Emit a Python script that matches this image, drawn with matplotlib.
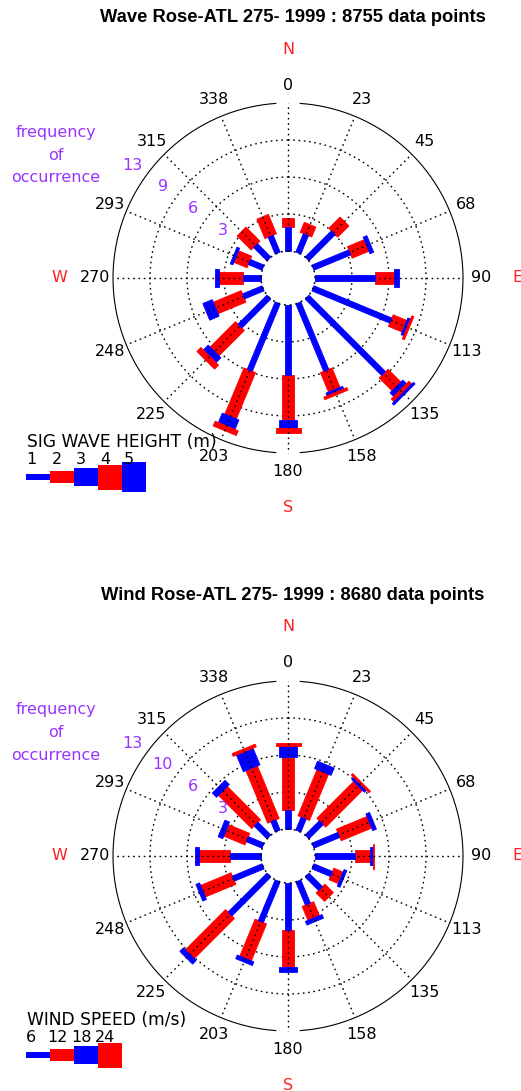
import numpy as np
import matplotlib.pyplot as plt

W, H = 521, 1091
PX = 148 / 13.0          # pixels per 1 % of occurrence
HUB = 27 / PX            # radius of the empty hub, in % units

directions = np.arange(0, 360, 22.5)
dir_labels = ['0', '23', '45', '68', '90', '113', '135', '158',
              '180', '203', '225', '248', '270', '293', '315', '338']
compass = [('N', 0), ('E', 90), ('S', 180), ('W', 270)]

# wave rose: % occurrence per direction, per height class (1..5 m)
wave_h1 = [2.10, 1.75, 3.25, 3.50, 5.30, 7.40, 9.50, 6.40, 6.15, 6.40, 3.60, 1.85, 1.60, 1.30, 1.65, 1.60]
wave_h2 = [0.80, 0.95, 1.40, 1.60, 1.60, 1.30, 1.60, 1.85, 3.95, 4.40, 3.15, 2.65, 2.10, 1.25, 1.75, 1.85]
wave_h3 = [0.00, 0.00, 0.00, 0.35, 0.45, 0.25, 0.45, 0.25, 0.70, 0.90, 0.60, 0.90, 0.35, 0.25, 0.00, 0.00]
wave_h4 = [0.00, 0.00, 0.00, 0.00, 0.00, 0.20, 0.35, 0.25, 0.45, 0.45, 0.50, 0.00, 0.00, 0.00, 0.00, 0.00]
wave_h5 = [0.00, 0.00, 0.00, 0.00, 0.00, 0.00, 0.20, 0.00, 0.00, 0.00, 0.00, 0.00, 0.00, 0.00, 0.00, 0.00]
wave_ring_labels = ['3', '6', '9', '13']
wave_legend = ['1', '2', '3', '4', '5']

# wind rose: % occurrence per direction, per speed class (6..24 m/s)
wind_s1 = [1.67, 1.23, 1.76, 2.46, 3.51, 1.76, 1.67, 2.20, 4.13, 3.86, 4.83, 2.81, 2.72, 1.49, 1.58, 0.97]
wind_s2 = [4.65, 4.39, 4.57, 2.90, 1.32, 0.88, 1.05, 1.32, 3.25, 3.51, 5.00, 2.90, 2.72, 2.02, 4.13, 5.00]
wind_s3 = [0.97, 0.70, 0.26, 0.35, 0.26, 0.26, 0.00, 0.35, 0.44, 0.35, 0.44, 0.35, 0.35, 0.44, 0.53, 1.58]
wind_s4 = [0.26, 0.00, 0.18, 0.00, 0.09, 0.00, 0.00, 0.00, 0.00, 0.00, 0.00, 0.00, 0.00, 0.00, 0.00, 0.26]
wind_ring_labels = ['3', '6', '10', '13']
wind_legend = ['6', '12', '18', '24']

RMAX = 13.0
bar_px = [5.5, 12.5, 18, 25, 30]
bar_colors = ['#0000ff', '#ff0000', '#0000ff', '#ff0000', '#0000ff']
purple = '#9933ff'
dots = (0, (1.2, 2.6))


def bar(ax, theta, r0, r1, width, color, z):
    t = np.radians(theta)
    u = np.array([np.sin(t), np.cos(t)])
    p = np.array([np.cos(t), -np.sin(t)]) * width / 2
    a, b = u * r0, u * r1
    pts = np.array([a - p, b - p, b + p, a + p])
    ax.fill(pts[:, 0], pts[:, 1], color=color, lw=0.6, ec=color, zorder=z)


def rose(ax, cx, cy, classes, ring_labels, title, leg_title, leg_labels, num_dx):
    def to_xy(px, py):
        return (px - cx) / PX, (cy - py) / PX

    # rings and spokes
    phi = np.linspace(0, 2 * np.pi, 400)
    for i in range(1, 4):
        r = HUB + RMAX * i / 4
        ax.plot(r * np.sin(phi), r * np.cos(phi), color='k', lw=1.0, ls=dots, zorder=1)
    ax.plot(HUB * np.sin(phi), HUB * np.cos(phi), color='k', lw=1.1, ls=dots, zorder=6)
    rout = HUB + RMAX
    for a0, a1 in [(4, 176), (184, 356)]:
        ph = np.radians(np.linspace(a0, a1, 300))
        ax.plot(rout * np.sin(ph), rout * np.cos(ph), color='k', lw=0.8, zorder=3)
    for d in directions:
        t = np.radians(d)
        ax.plot([HUB * np.sin(t), rout * np.sin(t)], [HUB * np.cos(t), rout * np.cos(t)],
                color='k', lw=1.0, ls=dots, zorder=3)

    # stacked bars
    for j, d in enumerate(directions):
        r0 = HUB
        for c, vals in enumerate(classes):
            v = vals[j]
            if v <= 0:
                continue
            bar(ax, d, r0, r0 + v, bar_px[c] / PX, bar_colors[c], 4 if c == 0 else 2)
            r0 += v

    # direction labels
    for d, lab in zip(directions, dir_labels):
        t = np.radians(d)
        r = 193 / PX
        ax.text(r * np.sin(t), r * np.cos(t), lab, ha='center', va='center', fontsize=11.5)
    for lab, d in compass:
        t = np.radians(d)
        r = 229 / PX
        ax.text(r * np.sin(t), r * np.cos(t), lab, ha='center', va='center',
                fontsize=11.5, color='#ff2020')

    # ring labels
    for i, lab in enumerate(ring_labels):
        r = HUB + RMAX * (i + 1) / 4 + 17 / PX
        t = np.radians(306)
        ax.text(r * np.sin(t), r * np.cos(t), lab, ha='center', va='center',
                fontsize=11.5, color=purple)
    for s, yy in zip(['frequency', 'of', 'occurrence'], [132, 155, 178]):
        x, y = to_xy(56, yy + cy - 278)
        ax.text(x, y, s, ha='center', va='center', fontsize=11.5, color=purple)

    # title
    x, y = to_xy(293, cy - 261)
    ax.text(x, y, title, ha='center', va='center', fontsize=13.2,
            fontweight='bold', family='Liberation Sans')

    # legend
    ly = cy + 199
    x, y = to_xy(27, ly - 35)
    ax.text(x, y, leg_title, ha='left', va='center', fontsize=12.3)
    for c, lab in enumerate(leg_labels):
        x0 = 26 + 24 * c
        hx, hy = to_xy(x0, ly)
        wlen = 24 / PX
        hh = bar_px[c] / PX
        ax.fill([hx, hx + wlen, hx + wlen, hx], [hy - hh / 2, hy - hh / 2, hy + hh / 2, hy + hh / 2],
                color=bar_colors[c], lw=0)
        tx, ty = to_xy(x0 + (num_dx if c else 0), ly - 18)
        ax.text(tx, ty, lab, ha='left', va='center', fontsize=11.5)

    ax.set_xlim(-cx / PX, (W - cx) / PX)
    ax.axis('off')


fig = plt.figure(figsize=(W / 100, H / 100), dpi=100)
half = 545
ax1 = fig.add_axes([0, 1 - half / H, 1, half / H])
ax2 = fig.add_axes([0, 0, 1, 1 - half / H])

rose(ax1, 288, 278, [wave_h1, wave_h2, wave_h3, wave_h4, wave_h5], wave_ring_labels,
     'Wave Rose-ATL 275- 1999 : 8755 data points', 'SIG WAVE HEIGHT (m)', wave_legend, 2)
ax1.set_ylim(-(half - 278) / PX, 278 / PX)

rose(ax2, 288, 856, [wind_s1, wind_s2, wind_s3, wind_s4], wind_ring_labels,
     'Wind Rose-ATL 275- 1999 : 8680 data points', 'WIND SPEED (m/s)', wind_legend, -3)
ax2.set_ylim(-(H - 856) / PX, (856 - half) / PX)

fig.savefig('out.png', dpi=100)
